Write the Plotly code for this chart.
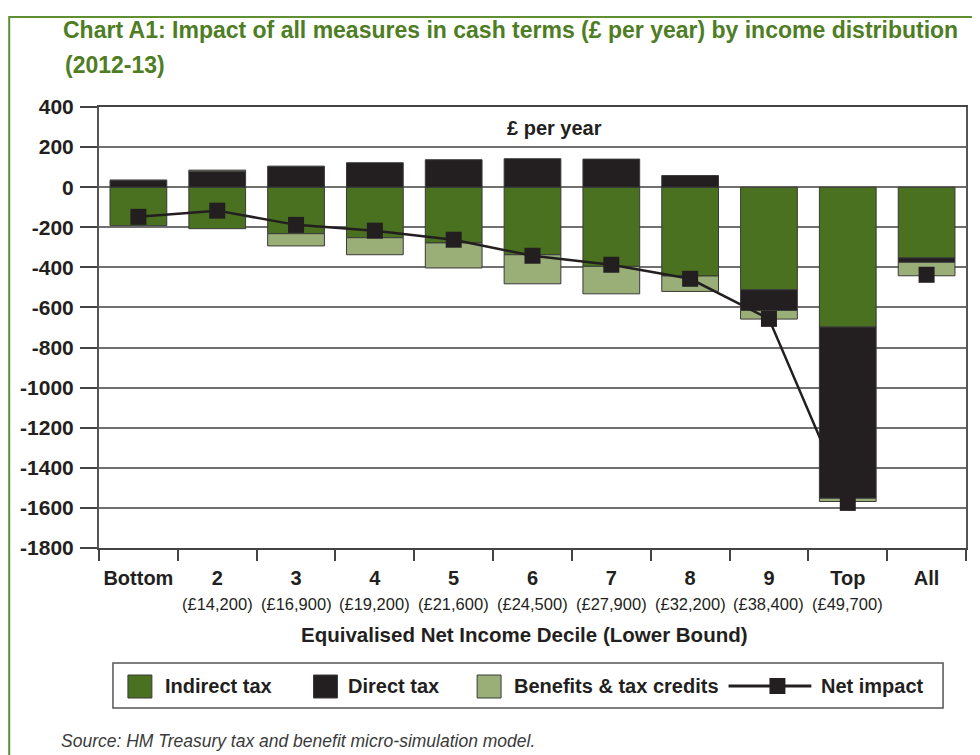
import plotly.graph_objects as go

# ---------------- data ----------------
categories = ["Bottom", "2", "3", "4", "5", "6", "7", "8", "9", "Top", "All"]
lower_bounds = ["", "(£14,200)", "(£16,900)", "(£19,200)", "(£21,600)", "(£24,500)",
                "(£27,900)", "(£32,200)", "(£38,400)", "(£49,700)", ""]
indirect_tax = [-192, -207, -232, -252, -278, -337, -395, -443, -512, -698, -353]
direct_tax = [33, 80, 105, 122, 137, 142, 140, 58, -103, -854, -22]
benefits = [3, 5, -61, -85, -125, -145, -137, -77, -43, -16, -67]
net_impact = [-148, -117, -188, -217, -262, -342, -387, -457, -657, -1575, -437]
y_ticks = [400, 200, 0, -200, -400, -600, -800, -1000, -1200, -1400, -1600, -1800]

# ---------------- styles ----------------
FONT = "Liberation Sans, Arial, sans-serif"
GREEN_TITLE = "#4e7d24"
C_INDIRECT = "#4a711f"
C_DIRECT = "#231f20"
C_BENEFIT = "#9aae78"
OUTLINE = "#3a3a3a"

OFF = 8  # page body margin
W, H = 980 - OFF, 755 - OFF
ML, MR, MT, MB = 99 - OFF, 12, 107 - OFF, 207
PW, PH = W - ML - MR, H - MT - MB


def px(x):
    """reference page x -> paper coords"""
    return (x - OFF - ML) / PW


def py(y):
    """reference page y -> paper coords"""
    return (H - MB - (y - OFF)) / PH


fig = go.Figure()
for name, vals, col in [("Indirect tax", indirect_tax, C_INDIRECT),
                        ("Direct tax", direct_tax, C_DIRECT),
                        ("Benefits & tax credits", benefits, C_BENEFIT)]:
    fig.add_trace(go.Bar(x=categories, y=vals, name=name, marker_color=col,
                         marker_line=dict(color=OUTLINE, width=1), width=0.72,
                         showlegend=False))
# Net impact: line through deciles, separate marker for "All"
fig.add_trace(go.Scatter(x=categories[:-1], y=net_impact[:-1], name="Net impact",
                         mode="lines+markers",
                         line=dict(color=C_DIRECT, width=2.5),
                         marker=dict(symbol="square", size=16, color=C_DIRECT),
                         showlegend=False))
fig.add_trace(go.Scatter(x=categories[-1:], y=net_impact[-1:], name="Net impact",
                         mode="markers",
                         marker=dict(symbol="square", size=16, color=C_DIRECT),
                         showlegend=False))

bold = dict(family=FONT, size=20, color="#231f20", weight="bold")

annotations = []
annotations.append(dict(text="(2012-13)", xref="paper", yref="paper", x=px(63), y=py(65),
                        xanchor="left", yanchor="middle", showarrow=False,
                        font=dict(family=FONT, size=23, color=GREEN_TITLE, weight="bold")))
annotations.append(dict(text="£ per year", xref="paper", yref="paper", x=px(556), y=py(128),
                        xanchor="center", yanchor="middle", showarrow=False, font=bold))
for i, lb in enumerate(lower_bounds):
    if lb:
        annotations.append(dict(text=lb, xref="x", yref="paper", x=i, y=py(604),
                                xanchor="center", yanchor="middle", showarrow=False,
                                font=dict(family=FONT, size=16.5, color="#231f20")))
annotations.append(dict(text="Equivalised Net Income Decile (Lower Bound)", xref="paper", yref="paper",
                        x=px(525), y=py(634), xanchor="center", yanchor="middle", showarrow=False,
                        font=dict(family=FONT, size=20.5, color="#231f20", weight="bold")))
annotations.append(dict(text="<i>Source: HM Treasury tax and benefit micro-simulation model.</i>",
                        xref="paper", yref="paper", x=px(59), y=py(741), xanchor="left",
                        yanchor="middle", showarrow=False,
                        font=dict(family=FONT, size=17.5, color="#3a3a3a")))

shapes = []
shapes.append(dict(type="rect", xref="paper", yref="paper", x0=px(9), x1=px(1010),
                   y0=py(800), y1=py(17), line=dict(color="#5f8f33", width=2), layer="below"))
shapes.append(dict(type="rect", xref="paper", yref="paper", x0=px(113), x1=px(945),
                   y0=py(708), y1=py(663), line=dict(color="#555555", width=1.5),
                   fillcolor="white"))
legend_items = [("Indirect tax", C_INDIRECT, 128, 163),
                ("Direct tax", C_DIRECT, 314, 347),
                ("Benefits & tax credits", C_BENEFIT, 478, 513)]
LY = 686
for name, col, sx, tx in legend_items:
    shapes.append(dict(type="rect", xref="paper", yref="paper", x0=px(sx), x1=px(sx + 24),
                       y0=py(LY + 12), y1=py(LY - 11), fillcolor=col,
                       line=dict(color=OUTLINE, width=1)))
    annotations.append(dict(text=name, xref="paper", yref="paper", x=px(tx), y=py(LY),
                            xanchor="left", yanchor="middle", showarrow=False,
                            font=dict(family=FONT, size=20, color="#231f20", weight="bold")))
shapes.append(dict(type="line", xref="paper", yref="paper", x0=px(730), x1=px(813),
                   y0=py(LY), y1=py(LY), line=dict(color=C_DIRECT, width=3)))
shapes.append(dict(type="rect", xref="paper", yref="paper", x0=px(771), x1=px(787),
                   y0=py(LY + 8), y1=py(LY - 8), fillcolor=C_DIRECT, line=dict(width=0)))
annotations.append(dict(text="Net impact", xref="paper", yref="paper", x=px(821), y=py(LY),
                        xanchor="left", yanchor="middle", showarrow=False,
                        font=dict(family=FONT, size=20, color="#231f20", weight="bold")))

fig.update_layout(
    width=W, height=H,
    margin=dict(l=ML, r=MR, t=MT, b=MB, pad=0),
    paper_bgcolor="white", plot_bgcolor="white",
    barmode="relative", bargap=0.28,
    showlegend=False,
    title=dict(text="Chart A1: Impact of all measures in cash terms (£ per year) by income distribution",
               x=(63 - OFF) / W, xanchor="left", xref="container", y=1 - (30 - OFF) / H,
               yanchor="middle", yref="container",
               font=dict(family=FONT, size=23, color=GREEN_TITLE, weight="bold")),
    xaxis=dict(type="category", range=[-0.5, len(categories) - 0.5],
               tickson="boundaries", ticks="outside", ticklen=11,
               tickcolor="#444444", tickwidth=1.5, showline=True, linecolor="#444444",
               linewidth=2, mirror=True, showgrid=False, tickfont=bold, tickangle=0,
               ticklabelstandoff=11),
    yaxis=dict(range=[-1800, 400], tickvals=y_ticks, ticktext=[str(v) for v in y_ticks],
               ticks="outside", ticklen=17, tickcolor="#444444", tickwidth=2,
               showline=True, linecolor="#555555", linewidth=2, mirror=True,
               showgrid=True, gridcolor="#707070", gridwidth=1.5,
               zeroline=True, zerolinecolor="#707070", zerolinewidth=1.5,
               tickfont=dict(family=FONT, size=21, color="#231f20", weight="bold"),
               ticklabelstandoff=2),
    annotations=annotations,
    shapes=shapes,
)

fig.write_html("out.html")
